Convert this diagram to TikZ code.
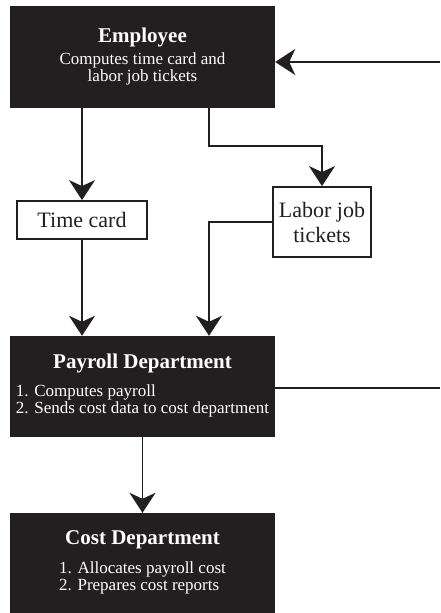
\documentclass[tikz,border=0pt]{standalone}
\usepackage{fontspec}
\setmainfont{Liberation Serif}
\usetikzlibrary{arrows.meta}

\definecolor{boxblack}{HTML}{231F20}
\definecolor{linegray}{HTML}{231F20}

\newcommand{\boxtitle}[1]{{\fontsize{21}{24}\selectfont\bfseries #1}}
\newcommand{\boxbody}{\fontsize{17}{17}\selectfont}
\newcommand{\docbody}{\fontsize{22}{25}\selectfont}

\tikzset{
  darkbox/.style={fill=boxblack, text=white, minimum width=265pt, align=center, inner sep=2pt, font=\boxbody},
  docbox/.style={draw=linegray, line width=1.8pt, fill=white, text=linegray, align=center, inner sep=2pt, font=\docbody},
  flow/.style={draw=linegray, line width=1.8pt},
  flowarrow/.style={flow, -{Stealth[length=20pt, width=26pt, inset=6pt]}}
}

\begin{document}
\begin{tikzpicture}[x=1pt, y=-1pt]

  \useasboundingbox (0,0) rectangle (440,613);

  % Dark boxes
  \node[darkbox, minimum height=102pt] (emp) at (142.5,57)
    {\boxtitle{Employee}\\[5pt]
     Computes time card and\\ labor job tickets};
  \node[darkbox, minimum height=101pt] (pay) at (142.5,386.5)
    {\boxtitle{Payroll Department}\\[11pt]
     \begin{tabular}{@{}l@{}}1. Computes payroll\\2. Sends cost data to cost department\end{tabular}};
  \node[darkbox, minimum height=100pt] (cost) at (142.5,563)
    {\boxtitle{Cost Department}\\[12pt]
     \begin{tabular}{@{}l@{}}1. Allocates payroll cost\\2. Prepares cost reports\end{tabular}};

  % Documents
  \node[docbox, minimum width=130pt, minimum height=38pt] (time) at (82,220)
    {Time card};
  \node[docbox, minimum width=98pt, minimum height=70pt] (labor) at (322,222)
    {Labor job\\ tickets};

  % Feedback ends (cut at the right edge)
  \coordinate (fbin) at (440,62);
  \coordinate (fbout) at (440,388);

  % Bends
  \coordinate (E1) at (209,108);
  \coordinate (E2) at (209,146);
  \coordinate (E3) at (322,146);
  \coordinate (L1) at (209,222);

  % Connections
  \draw[flowarrow] (time.north |- emp.south) -- (time.north);
  \draw[flowarrow] (E1) -- (E2) -- (E3) -- (labor.north);
  \draw[flowarrow] (time.south) -- (time.south |- pay.north);
  \draw[flowarrow] (labor.west) -- (L1) -- (L1 |- pay.north);
  \draw[flowarrow] (pay.south) -- (cost.north);
  \draw[flowarrow] (fbin) -- (emp.east |- fbin);
  \draw[flow] (pay.east |- fbout) -- (fbout);

\end{tikzpicture}
\end{document}
